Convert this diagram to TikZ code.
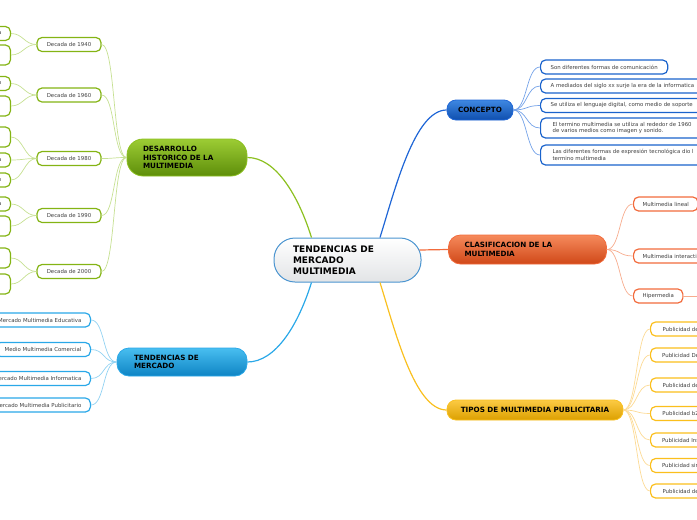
\documentclass[tikz,border=0pt]{standalone}
\usepackage{fontspec}
\setmainfont{DejaVu Sans}
\definecolor{cenLine}{HTML}{4A94D0}
\definecolor{cenBot}{HTML}{E2E4E6}
\definecolor{desTop}{HTML}{9CCC34}
\definecolor{desBot}{HTML}{5E8E0A}
\definecolor{desLine}{HTML}{8CC020}
\definecolor{desLeaf}{HTML}{84B414}
\definecolor{desLink}{HTML}{C6E092}
\definecolor{merTop}{HTML}{48BEF0}
\definecolor{merBot}{HTML}{0E84C4}
\definecolor{merLine}{HTML}{2AA8E8}
\definecolor{merLeaf}{HTML}{2AA8E8}
\definecolor{merLink}{HTML}{92D2F2}
\definecolor{conTop}{HTML}{3E88E2}
\definecolor{conBot}{HTML}{0F4EAE}
\definecolor{conLine}{HTML}{1F66D6}
\definecolor{conLeaf}{HTML}{1A63CC}
\definecolor{conLink}{HTML}{74A2E8}
\definecolor{claTop}{HTML}{F68A5C}
\definecolor{claBot}{HTML}{D04818}
\definecolor{claLine}{HTML}{F26B3C}
\definecolor{claLeaf}{HTML}{F26B3C}
\definecolor{claLink}{HTML}{F7AC8E}
\definecolor{tipTop}{HTML}{FCCA44}
\definecolor{tipBot}{HTML}{DCA000}
\definecolor{tipLine}{HTML}{F9C020}
\definecolor{tipLeaf}{HTML}{FBBF1C}
\definecolor{tipLink}{HTML}{FCDA94}
\definecolor{leafText}{HTML}{404040}
\begin{document}
\begin{tikzpicture}[x=1pt, y=-1pt,
  topic/.style={draw=#1Line, line width=0.8pt, top color=#1Top, bottom color=#1Bot,
                rounded corners=9pt, font=\bfseries\fontsize{7.2}{8.6}\selectfont,
                align=left, inner ysep=0pt},
  leaf/.style={draw=#1Leaf, line width=1.2pt, fill=white, rounded corners=5pt,
               font=\fontsize{5.4}{6.6}\selectfont, text=leafText, align=left,
               inner xsep=9pt, inner ysep=0pt, minimum height=14pt},
  link/.style={draw=#1Line, line width=1.2pt},
  twig/.style={draw=#1Link, line width=0.7pt}
]
  \useasboundingbox (0,0) rectangle (697,520);
  \clip (0,0) rectangle (697,520);

  % Branches
  \node[draw=cenLine, line width=1pt, top color=white, bottom color=cenBot,
        rounded corners=21pt, minimum width=147pt, minimum height=44pt,
        text width=109pt, inner xsep=19pt, inner ysep=0pt, align=left,
        font=\bfseries\fontsize{9}{11}\selectfont] (tdm) at (347.5,260)
        {TENDENCIAS DE\\MERCADO\\MULTIMEDIA};
  \node[topic=des, minimum width=120pt, minimum height=37pt, text width=88pt,
        inner xsep=16pt, rounded corners=16pt] (des) at (187,157.5)
        {DESARROLLO\\HISTORICO DE LA\\MULTIMEDIA};
  \node[topic=mer, minimum width=130pt, minimum height=28pt, text width=96pt,
        inner xsep=17pt, rounded corners=12pt] (mer) at (182,362) {TENDENCIAS DE\\MERCADO};
  \node[topic=con, minimum width=66pt, minimum height=20pt] (con) at (480,110) {CONCEPTO};
  \node[topic=cla, minimum width=158pt, minimum height=29pt, text width=126pt,
        inner xsep=16pt, rounded corners=12pt] (cla) at (527.5,249.5) {CLASIFICACION DE LA\\MULTIMEDIA};
  \node[topic=tip, minimum width=176pt, minimum height=20pt] (tip) at (535,410)
        {TIPOS DE MULTIMEDIA PUBLICITARIA};

  \draw[link=des] ([xshift=-36pt]tdm.north) .. controls +(-13.5,-43) and +(28,0) .. (des.east);
  \draw[link=mer] ([xshift=-36pt]tdm.south) .. controls +(-13.5,43) and +(28,0) .. (mer.east);
  \draw[link=con] ([xshift=32.5pt]tdm.north) .. controls +(15,-48) and +(-32,0) .. (con.west);
  \draw[link=tip] ([xshift=32.5pt]tdm.south) .. controls +(15,48) and +(-32,0) .. (tip.west);
  \draw[link=cla] ([xshift=-2pt,yshift=10pt]tdm.east) -- (cla.west);

  % Decadas
  \node[leaf=des, minimum width=64pt, align=center] (d1940) at (69,44.5) {Decada de 1940};
  \node[leaf=des, minimum width=64pt, align=center] (d1960) at (69,95) {Decada de 1960};
  \node[leaf=des, minimum width=64pt, align=center] (d1980) at (69,158.5) {Decada de 1980};
  \node[leaf=des, minimum width=64pt, align=center] (d1990) at (69,215.5) {Decada de 1990};
  \node[leaf=des, minimum width=64pt, align=center] (d2000) at (69,271.5) {Decada de 2000};

  \node[leaf=des, anchor=east, text width=40pt, align=right] (h1) at (11,33.5) {a};
  \node[leaf=des, anchor=east, minimum width=60pt, minimum height=20pt] (h2) at (11,55) {};
  \node[leaf=des, anchor=east, text width=40pt, align=right] (h3) at (11,83.5) {o};
  \node[leaf=des, anchor=east, minimum width=60pt, minimum height=20pt] (h4) at (11,106) {};
  \node[leaf=des, anchor=east, minimum width=60pt, minimum height=20pt] (h5) at (11,137) {};
  \node[leaf=des, anchor=east, text width=40pt, align=right] (h6) at (11,160) {a};
  \node[leaf=des, anchor=east, text width=40pt, align=right] (h7) at (11,180) {n};
  \node[leaf=des, anchor=east, text width=40pt, align=right] (h8) at (11,204) {a};
  \node[leaf=des, anchor=east, minimum width=60pt, minimum height=20pt] (h9) at (11,226) {};
  \node[leaf=des, anchor=east, minimum width=60pt, minimum height=20pt] (h10) at (11,258) {};
  \node[leaf=des, anchor=east, minimum width=60pt, minimum height=20pt] (h11) at (11,284) {};

  \draw[twig=des] (des.west) .. controls +(-14,0) and +(14,0) .. (d1940.east);
  \draw[twig=des] (des.west) .. controls +(-14,0) and +(14,0) .. (d1960.east);
  \draw[twig=des] (des.west) .. controls +(-14,0) and +(14,0) .. (d1980.east);
  \draw[twig=des] (des.west) .. controls +(-14,0) and +(14,0) .. (d1990.east);
  \draw[twig=des] (des.west) .. controls +(-14,0) and +(14,0) .. (d2000.east);
  \draw[twig=des] (d1940.west) .. controls +(-12,0) and +(12,0) .. (h1.east);
  \draw[twig=des] (d1940.west) .. controls +(-12,0) and +(12,0) .. (h2.east);
  \draw[twig=des] (d1960.west) .. controls +(-12,0) and +(12,0) .. (h3.east);
  \draw[twig=des] (d1960.west) .. controls +(-12,0) and +(12,0) .. (h4.east);
  \draw[twig=des] (d1980.west) .. controls +(-12,0) and +(12,0) .. (h5.east);
  \draw[twig=des] (d1980.west) .. controls +(-12,0) and +(12,0) .. (h6.east);
  \draw[twig=des] (d1980.west) .. controls +(-12,0) and +(12,0) .. (h7.east);
  \draw[twig=des] (d1990.west) .. controls +(-12,0) and +(12,0) .. (h8.east);
  \draw[twig=des] (d1990.west) .. controls +(-12,0) and +(12,0) .. (h9.east);
  \draw[twig=des] (d2000.west) .. controls +(-12,0) and +(12,0) .. (h10.east);
  \draw[twig=des] (d2000.west) .. controls +(-12,0) and +(12,0) .. (h11.east);

  % Mercado
  \node[leaf=mer, anchor=east] (m1) at (91,320) {Mercado Multimedia Educativa};
  \node[leaf=mer, anchor=east] (m2) at (91,349.5) {Medio Multimedia Comercial};
  \node[leaf=mer, anchor=east] (m3) at (91,378.5) {Mercado Multimedia Informatica};
  \node[leaf=mer, anchor=east] (m4) at (91,405) {Mercado Multimedia Publicitario};
  \draw[twig=mer] (mer.west) .. controls +(-14,0) and +(14,0) .. (m1.east);
  \draw[twig=mer] (mer.west) .. controls +(-14,0) and +(14,0) .. (m2.east);
  \draw[twig=mer] (mer.west) .. controls +(-14,0) and +(14,0) .. (m3.east);
  \draw[twig=mer] (mer.west) .. controls +(-14,0) and +(14,0) .. (m4.east);

  % Concepto
  \node[leaf=con, anchor=west, inner xsep=10pt] (c1) at (540,67) {Son diferentes formas de comunicación};
  \node[leaf=con, anchor=west, inner xsep=10pt] (c2) at (540,86) {A mediados del siglo xx surje la era de la informatica};
  \node[leaf=con, anchor=west, inner xsep=10pt] (c3) at (540,105.5) {Se utiliza el lenguaje digital, como medio de soporte};
  \node[leaf=con, anchor=west, inner xsep=12pt, minimum height=20pt] (c4) at (540,128)
        {El termino multimedia se utiliza al rededor de 1960\\de varios medios como imagen y sonido.};
  \node[leaf=con, anchor=west, inner xsep=12pt, minimum height=20pt] (c5) at (540,155)
        {Las diferentes formas de expresión tecnológica dio l\\termino multimedia};
  \draw[twig=con] (con.east) .. controls +(14,0) and +(-14,0) .. (c1.west);
  \draw[twig=con] (con.east) .. controls +(14,0) and +(-14,0) .. (c2.west);
  \draw[twig=con] (con.east) .. controls +(14,0) and +(-14,0) .. (c3.west);
  \draw[twig=con] (con.east) .. controls +(14,0) and +(-14,0) .. (c4.west);
  \draw[twig=con] (con.east) .. controls +(14,0) and +(-14,0) .. (c5.west);

  % Clasificacion
  \node[leaf=cla, anchor=west] (k1) at (633,204) {Multimedia lineal};
  \node[leaf=cla, anchor=west] (k2) at (633,256) {Multimedia interacti};
  \node[leaf=cla, anchor=west] (k3) at (633,296) {Hipermedia};
  \coordinate (k3out) at (705,296);
  \draw[twig=cla] (cla.east) .. controls +(14,0) and +(-14,0) .. (k1.west);
  \draw[twig=cla] (cla.east) .. controls +(14,0) and +(-14,0) .. (k2.west);
  \draw[twig=cla] (cla.east) .. controls +(14,0) and +(-14,0) .. (k3.west);
  \draw[twig=cla] (k3.east) -- (k3out);

  % Tipos
  \node[leaf=tip, anchor=west, minimum width=60pt] (t1) at (650,329) {Publicidad de};
  \node[leaf=tip, anchor=west, minimum width=60pt] (t2) at (650,355) {Publicidad De};
  \node[leaf=tip, anchor=west, minimum width=60pt] (t3) at (650,385) {Publicidad de};
  \node[leaf=tip, anchor=west, minimum width=60pt] (t4) at (650,413.5) {Publicidad b2};
  \node[leaf=tip, anchor=west, minimum width=60pt] (t5) at (650,440) {Publicidad Ins};
  \node[leaf=tip, anchor=west, minimum width=60pt] (t6) at (650,465.5) {Publicidad sin};
  \node[leaf=tip, anchor=west, minimum width=60pt] (t7) at (650,491) {Publicidad de};
  \draw[twig=tip] (tip.east) .. controls +(14,0) and +(-14,0) .. (t1.west);
  \draw[twig=tip] (tip.east) .. controls +(14,0) and +(-14,0) .. (t2.west);
  \draw[twig=tip] (tip.east) .. controls +(14,0) and +(-14,0) .. (t3.west);
  \draw[twig=tip] (tip.east) .. controls +(14,0) and +(-14,0) .. (t4.west);
  \draw[twig=tip] (tip.east) .. controls +(14,0) and +(-14,0) .. (t5.west);
  \draw[twig=tip] (tip.east) .. controls +(14,0) and +(-14,0) .. (t6.west);
  \draw[twig=tip] (tip.east) .. controls +(14,0) and +(-14,0) .. (t7.west);
\end{tikzpicture}
\end{document}
